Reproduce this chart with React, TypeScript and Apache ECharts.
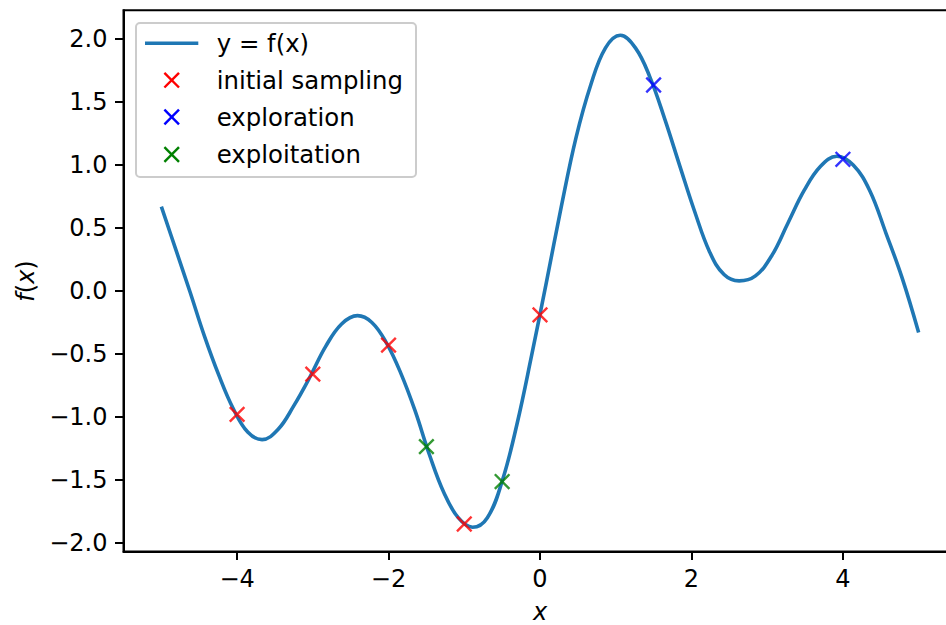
import React, { useEffect, useRef } from "react";
import * as echarts from "echarts";

const curveX = [-5, -4.81, -4.62, -4.43, -4.24, -4.05, -3.86, -3.67, -3.46, -3.25, -3.04, -2.83, -2.62, -2.41, -2.22, -2.03, -1.84, -1.65, -1.46, -1.27, -1.08, -0.89, -0.695, -0.5, -0.305, -0.11, 0.085, 0.28, 0.475, 0.67, 0.865, 1.06, 1.26, 1.45, 1.65, 1.85, 2.04, 2.24, 2.43, 2.63, 2.845, 3.06, 3.275, 3.49, 3.705, 3.92, 4.136, 4.352, 4.568, 4.784, 5];
const curveY = [0.67, 0.33, -0.01, -0.36, -0.67, -0.935, -1.12, -1.18, -1.1, -0.91, -0.685, -0.44, -0.262, -0.196, -0.25, -0.41, -0.65, -0.95, -1.3, -1.6, -1.8, -1.876, -1.8, -1.51, -1.06, -0.51, 0.07, 0.665, 1.215, 1.635, 1.93, 2.03, 1.93, 1.7, 1.36, 0.985, 0.635, 0.31, 0.13, 0.08, 0.12, 0.28, 0.54, 0.8, 0.99, 1.07, 1.0, 0.8, 0.46, 0.1, -0.33];

const initialX = [-4, -3, -2, -1, 0];
const initialY = [-0.98, -0.66, -0.43, -1.85, -0.19];
const explorationX = [1.5, 4];
const explorationY = [1.635, 1.045];
const exploitationX = [-1.5, -0.5];
const exploitationY = [-1.236, -1.513];

const xTicks = [-4, -2, 0, 2, 4];
const yTicks = [-2, -1.5, -1, -0.5, 0, 0.5, 1, 1.5, 2];
const legendLabels = ["y = f(x)", "initial sampling", "exploration", "exploitation"];

const FONT = "DejaVu Sans";
const CROSS = "path://M0,0L10,10M0,10L10,0";

const fmtTick = (v: number, digits: number) => {
  const s = Math.abs(v).toFixed(digits);
  return v < 0 ? "\u2212" + s : s;
};

const zip = (xs: number[], ys: number[]) => xs.map((x, i) => [x, ys[i]]);

export default function App() {
  const ref = useRef<HTMLDivElement>(null);
  useEffect(() => {
    if (!ref.current) return;
    const chart = echarts.init(ref.current, null, { renderer: "svg" });

    const rowY = [43.3, 80.2, 117, 154.5];
    const markerColors = ["#ff0000", "#0000ff", "#008000"];
    const legendChildren: any[] = [
      {
        type: "rect",
        shape: { x: 136, y: 23, width: 280, height: 154, r: 4 },
        style: { fill: "rgba(255,255,255,0.8)", stroke: "#cccccc", lineWidth: 2 },
      },
      {
        type: "line",
        shape: { x1: 145, y1: rowY[0], x2: 198.3, y2: rowY[0] },
        style: { stroke: "#1f77b4", lineWidth: 3.6 },
      },
    ];
    markerColors.forEach((c, i) => {
      const cy = rowY[i + 1];
      const cx = 171.7;
      const h = 7.3;
      legendChildren.push({
        type: "line",
        shape: { x1: cx - h, y1: cy - h, x2: cx + h, y2: cy + h },
        style: { stroke: c, lineWidth: 2.4 },
      });
      legendChildren.push({
        type: "line",
        shape: { x1: cx - h, y1: cy + h, x2: cx + h, y2: cy - h },
        style: { stroke: c, lineWidth: 2.4 },
      });
    });
    legendLabels.forEach((t, i) => {
      legendChildren.push({
        type: "text",
        x: 216.7,
        y: rowY[i],
        style: {
          text: t,
          fontSize: 24.4,
          fontFamily: FONT,
          fill: "#000000",
          verticalAlign: "middle",
          align: "left",
        },
      });
    });

    const scatterBase = (name: string, xs: number[], ys: number[], color: string) => ({
      name,
      type: "scatter",
      data: zip(xs, ys),
      symbol: CROSS,
      symbolSize: 14.6,
      itemStyle: { color: "none", borderColor: color, borderWidth: 2.4 },
      z: 3,
    });

    chart.setOption({
      animation: false,
      grid: {
        left: 123.5,
        top: 10.3,
        width: 833,
        height: 541.3,
        outerBoundsMode: "none",
        containLabel: false,
        show: true,
        borderColor: "#000000",
        borderWidth: 2,
        backgroundColor: "transparent",
      },
      xAxis: {
        type: "value",
        min: -5.5,
        max: 5.5,
        name: "x",
        nameLocation: "middle",
        nameGap: 50,
        nameTextStyle: { fontFamily: FONT, fontSize: 24, lineHeight: 20, fontStyle: "italic", color: "#000" },
        axisLine: { show: true, onZero: false, lineStyle: { color: "#000", width: 2 } },
        axisTick: { show: true, length: 8.5, lineStyle: { color: "#000", width: 2 }, customValues: xTicks },
        axisLabel: {
          customValues: xTicks,
          margin: 15,
          fontFamily: FONT,
          fontSize: 24,
          color: "#000",
          formatter: (v: number) => fmtTick(v, 0),
        },
        splitLine: { show: false },
      },
      yAxis: {
        type: "value",
        min: -2.069,
        max: 2.228,
        name: "{i|f}({i|x})",
        nameLocation: "middle",
        nameGap: 77,
        nameTextStyle: {
          fontFamily: FONT,
          fontSize: 24,
          color: "#000",
          rich: { i: { fontFamily: FONT, fontSize: 24, fontStyle: "italic", color: "#000" } },
        },
        axisLine: { show: true, onZero: false, lineStyle: { color: "#000", width: 2 } },
        axisTick: { show: true, length: 8.5, lineStyle: { color: "#000", width: 2 }, customValues: yTicks },
        axisLabel: {
          customValues: yTicks,
          margin: 16,
          fontFamily: FONT,
          fontSize: 24,
          color: "#000",
          formatter: (v: number) => fmtTick(v, 1),
        },
        splitLine: { show: false },
      },
      series: [
        {
          name: "y = f(x)",
          type: "line",
          data: zip(curveX, curveY),
          smooth: 0.4,
          showSymbol: false,
          symbol: "none",
          lineStyle: { color: "#1f77b4", width: 3.6 },
          z: 2,
        },
        scatterBase("initial sampling", initialX, initialY, "#ff0000"),
        scatterBase("exploration", explorationX, explorationY, "#0000ff"),
        scatterBase("exploitation", exploitationX, exploitationY, "#008000"),
      ],
      graphic: [{ type: "group", z: 100, children: legendChildren }],
    });
    return () => chart.dispose();
  }, []);
  return (
    <div style={{ position: "fixed", left: 0, top: 0, width: 946, height: 625, overflow: "hidden", background: "#fff" }}>
      <div ref={ref} style={{ width: 1000, height: 625 }} />
    </div>
  );
}
